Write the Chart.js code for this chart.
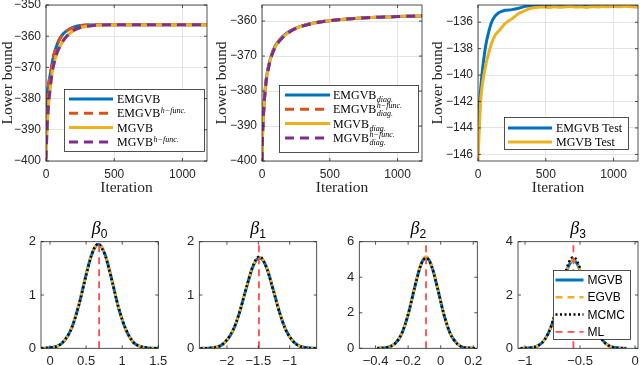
<!DOCTYPE html>
<html>
<head>
<meta charset="utf-8">
<script src="https://cdn.jsdelivr.net/npm/chart.js@4/dist/chart.umd.min.js"></script>
<style>
  body { margin: 0; background: #fff; }
  #wrap { position: relative; width: 640px; height: 365px; overflow: hidden; }
  #wrap canvas { position: absolute; left: 0; top: 0; }
</style>
</head>
<body>
<div id="wrap"></div>
<script>
"use strict";

// ---- top row: lower bound against iteration ----
const iterA = [0, 5, 10, 20, 30, 40, 50, 60, 80, 100, 125, 150, 175, 200, 250, 300, 400, 500, 600, 800, 1000, 1200];
const emgvb = [-385, -381.5, -378.5, -375, -372.5, -370, -367.5, -365.5, -362.8, -360.8, -359.3, -358.3, -357.6, -357.1, -356.6, -356.4, -356.3, -356.3, -356.3, -356.3, -356.3, -356.3];
const emgvbH = [-386, -382, -379, -375.3, -372.6, -370.2, -367.8, -365.7, -363, -361, -359.4, -358.4, -357.7, -357.2, -356.7, -356.4, -356.3, -356.3, -356.3, -356.3, -356.3, -356.3];
const mgvb = [-400, -393, -388, -381.5, -377, -373.3, -370.5, -368.6, -365.5, -363.5, -361.6, -360.2, -359.1, -358.3, -357.3, -356.8, -356.4, -356.3, -356.3, -356.3, -356.3, -356.3];
const mgvbH = [-399.5, -392.8, -387.8, -381.3, -376.9, -373.2, -370.4, -368.5, -365.4, -363.4, -361.5, -360.1, -359, -358.2, -357.2, -356.8, -356.4, -356.3, -356.3, -356.3, -356.3, -356.3];

const iterB = [0, 5, 10, 20, 30, 40, 60, 80, 100, 125, 150, 200, 250, 300, 400, 500, 600, 700, 800, 900, 1000, 1100, 1200];
const emgvbDiag = [-400, -391, -387, -381, -377, -374.5, -371, -368.6, -367, -365.6, -364.5, -363, -362, -361.3, -360.4, -359.9, -359.5, -359.2, -359, -358.8, -358.7, -358.6, -358.5];
const emgvbDiagH = [-400, -391.2, -387.1, -381.1, -377.1, -374.6, -371.1, -368.7, -367.1, -365.7, -364.6, -363.1, -362, -361.3, -360.4, -359.9, -359.5, -359.2, -359, -358.8, -358.7, -358.6, -358.5];
const mgvbDiag = [-400, -391.5, -387.4, -381.4, -377.4, -374.9, -371.3, -368.9, -367.3, -365.8, -364.7, -363.2, -362.1, -361.4, -360.5, -359.9, -359.5, -359.2, -359, -358.8, -358.7, -358.6, -358.5];
const mgvbDiagH = [-400, -391.6, -387.5, -381.5, -377.5, -375, -371.4, -369, -367.4, -365.9, -364.8, -363.2, -362.1, -361.4, -360.5, -359.9, -359.5, -359.2, -359, -358.8, -358.7, -358.6, -358.5];

const iterC = [0, 5, 10, 20, 30, 40, 60, 80, 100, 125, 150, 175, 200, 250, 300, 350, 400, 440, 480, 520, 560, 600, 640, 680, 720, 760, 800, 840, 880, 920, 960, 1000, 1040, 1080, 1120, 1160, 1200];
const emgvbTest = [-144.7, -143.4, -142.4, -141, -139.9, -139, -137.6, -136.7, -136, -135.55, -135.3, -135.18, -135.1, -135.05, -134.95, -134.8, -134.74, -134.71, -134.73, -134.69, -134.72, -134.75, -134.7, -134.68, -134.72, -134.74, -134.7, -134.71, -134.69, -134.73, -134.7, -134.67, -134.71, -134.74, -134.7, -134.72, -134.75];
const mgvbTest = [-146.5, -145.2, -144, -141.9, -140.9, -140.2, -139.1, -138.3, -137.6, -137, -136.7, -136.4, -136.1, -135.75, -135.35, -135.1, -134.93, -134.88, -134.86, -134.89, -134.84, -134.87, -134.85, -134.82, -134.86, -134.84, -134.88, -134.83, -134.85, -134.81, -134.84, -134.8, -134.83, -134.79, -134.82, -134.86, -134.88];

// ---- bottom row: marginal densities ----
const b0X = [-0.12, 0, 0.1, 0.2, 0.3, 0.4, 0.5, 0.57, 0.63, 0.67, 0.71, 0.77, 0.85, 0.95, 1.05, 1.15, 1.25, 1.35, 1.5];
const b0Mgvb = [0.001, 0.009, 0.04, 0.14, 0.38, 0.82, 1.38, 1.73, 1.91, 1.95, 1.91, 1.73, 1.32, 0.76, 0.35, 0.12, 0.035, 0.008, 0];
const b0Egvb = [0.001, 0.009, 0.04, 0.14, 0.39, 0.83, 1.39, 1.74, 1.92, 1.96, 1.92, 1.74, 1.33, 0.77, 0.35, 0.12, 0.035, 0.008, 0];
const b0Mcmc = [0.001, 0.01, 0.04, 0.15, 0.38, 0.81, 1.37, 1.73, 1.92, 1.96, 1.9, 1.72, 1.31, 0.76, 0.36, 0.12, 0.036, 0.008, 0];

const b1X = [-2.42, -2.25, -2.1, -2, -1.9, -1.8, -1.7, -1.6, -1.53, -1.48, -1.43, -1.36, -1.26, -1.16, -1.06, -0.96, -0.86, -0.72, -0.57];
const b1Mgvb = [0, 0.008, 0.05, 0.15, 0.34, 0.67, 1.09, 1.49, 1.66, 1.7, 1.66, 1.49, 1.09, 0.67, 0.34, 0.15, 0.05, 0.009, 0];
const b1Egvb = [0, 0.008, 0.05, 0.15, 0.35, 0.68, 1.1, 1.5, 1.67, 1.71, 1.67, 1.5, 1.1, 0.68, 0.34, 0.15, 0.05, 0.009, 0];
const b1Mcmc = [0, 0.009, 0.05, 0.16, 0.35, 0.67, 1.1, 1.5, 1.68, 1.72, 1.67, 1.48, 1.08, 0.66, 0.34, 0.15, 0.05, 0.009, 0];

const b2X = [-0.39, -0.33, -0.28, -0.24, -0.2, -0.16, -0.13, -0.11, -0.09, -0.07, -0.05, -0.02, 0.02, 0.06, 0.1, 0.14, 0.18, 0.21];
const b2Mgvb = [0.003, 0.05, 0.27, 0.81, 1.9, 3.42, 4.47, 4.94, 5.1, 4.94, 4.47, 3.42, 1.9, 0.81, 0.27, 0.05, 0.013, 0.003];
const b2Egvb = [0.003, 0.05, 0.28, 0.83, 1.93, 3.46, 4.52, 5, 5.17, 5, 4.52, 3.46, 1.93, 0.83, 0.28, 0.05, 0.013, 0.003];
const b2Mcmc = [0.003, 0.05, 0.27, 0.82, 1.91, 3.43, 4.46, 4.93, 5.08, 4.93, 4.46, 3.41, 1.9, 0.8, 0.27, 0.05, 0.013, 0.003];

const b3X = [-1.04, -0.95, -0.88, -0.82, -0.76, -0.7, -0.65, -0.6, -0.56, -0.52, -0.47, -0.42, -0.36, -0.3, -0.24, -0.17, -0.08];
const b3Mgvb = [0.001, 0.018, 0.1, 0.33, 0.84, 1.69, 2.5, 3.12, 3.3, 3.12, 2.5, 1.69, 0.84, 0.33, 0.1, 0.018, 0.001];
const b3Egvb = [0.001, 0.018, 0.1, 0.33, 0.85, 1.7, 2.52, 3.14, 3.32, 3.14, 2.52, 1.7, 0.85, 0.33, 0.1, 0.018, 0.001];
const b3Mcmc = [0.001, 0.019, 0.1, 0.34, 0.86, 1.73, 2.58, 3.24, 3.42, 3.22, 2.55, 1.7, 0.84, 0.33, 0.1, 0.018, 0.001];

const mlEstimates = [0.68, -1.49, -0.09, -0.56];

const C = {
  blue: "#0072BD", orange: "#D95319", yellow: "#EDB120", purple: "#7E2F8E",
  red: "#FF4D4D", axis: "#262626", grid: "#e4e4e4",
};

function pts(xs, ys) {
  return xs.map((x, i) => ({ x: x, y: ys[i] }));
}

function line(label, xs, ys, color, width, dash, order) {
  return {
    label: label, data: pts(xs, ys), borderColor: color, backgroundColor: color,
    borderWidth: width, borderDash: dash, order: order, fill: false, clip: 0,
  };
}

function mlLine(x, top) {
  return {
    label: "ML", data: pts([x, x], [0, top]), borderColor: C.red, borderWidth: 1.8,
    borderDash: [7, 5], order: 0, tension: 0, cubicInterpolationMode: "default", clip: 0,
  };
}

function drawLegend(chart, lg) {
  const ctx = chart.ctx;
  const ds = chart.data.datasets;
  ctx.fillStyle = "#fff";
  ctx.fillRect(lg.x, lg.y, lg.w, lg.h);
  ctx.strokeStyle = C.axis;
  ctx.lineWidth = 0.8;
  ctx.setLineDash([]);
  ctx.strokeRect(lg.x + 0.5, lg.y + 0.5, lg.w, lg.h);
  lg.items.forEach((it, i) => {
    const d = ds[it.ds];
    const y = lg.y + lg.first + i * lg.step;
    ctx.strokeStyle = d.borderColor;
    ctx.lineWidth = d.borderWidth;
    ctx.setLineDash(it.dash || d.borderDash || []);
    ctx.beginPath();
    ctx.moveTo(lg.x + lg.pad, y);
    ctx.lineTo(lg.x + lg.pad + lg.len, y);
    ctx.stroke();
    ctx.setLineDash([]);
    ctx.fillStyle = "#000";
    ctx.textBaseline = "alphabetic";
    ctx.font = lg.font;
    let tx = lg.x + lg.pad + lg.len + lg.gap;
    ctx.fillText(d.label, tx, y + 4);
    tx += ctx.measureText(d.label).width + 0.5;
    ctx.font = 'italic 8px "Liberation Serif"';
    if (it.sup) ctx.fillText(it.sup, tx, it.sub ? y - 1 : y);
    if (it.sub) ctx.fillText(it.sub, tx, y + 7);
  });
}

function drawTitle(ctx, a, sub) {
  ctx.fillStyle = "#000";
  ctx.textBaseline = "alphabetic";
  ctx.font = 'italic 18px "Liberation Serif"';
  const wb = ctx.measureText("\u03B2").width;
  ctx.font = '12px "Liberation Sans"';
  const ws = ctx.measureText(sub).width;
  const x0 = (a.left + a.right) / 2 - (wb + ws) / 2;
  ctx.font = 'italic 18px "Liberation Serif"';
  ctx.fillText("\u03B2", x0, 234);
  ctx.font = '12px "Liberation Sans"';
  ctx.fillText(sub, x0 + wb, 238);
}

// box, inward ticks on all four sides, legend and title, MATLAB style
function matlabAxes(s) {
  return {
    id: "matlabAxes",
    afterDraw(chart) {
      const ctx = chart.ctx, a = chart.chartArea;
      const sx = chart.scales.x, sy = chart.scales.y;
      ctx.save();
      ctx.strokeStyle = C.axis;
      ctx.lineWidth = 0.8;
      ctx.beginPath();
      sx.ticks.forEach((t) => {
        const p = sx.getPixelForValue(t.value);
        ctx.moveTo(p, a.bottom); ctx.lineTo(p, a.bottom - 3);
        ctx.moveTo(p, a.top); ctx.lineTo(p, a.top + 3);
      });
      sy.ticks.forEach((t) => {
        const p = sy.getPixelForValue(t.value);
        ctx.moveTo(a.left, p); ctx.lineTo(a.left + 3, p);
        ctx.moveTo(a.right, p); ctx.lineTo(a.right - 3, p);
      });
      ctx.stroke();
      ctx.strokeRect(a.left, a.top, a.right - a.left, a.bottom - a.top);
      if (s.legend) drawLegend(chart, s.legend);
      if (s.title) drawTitle(ctx, a, s.title);
      ctx.restore();
    },
  };
}

function makeChart(s) {
  const cv = document.createElement("canvas");
  cv.width = 640;
  cv.height = 365;
  document.getElementById("wrap").appendChild(cv);
  const a = s.area;
  const fmt = (v) => String(v).replace("-", "\u2212");
  const tickFont = { family: "Liberation Sans", size: s.tickSize };
  const titleFont = { family: "Liberation Serif", size: 15.5, lineHeight: 1 };
  const noPad = (sc) => { sc.paddingLeft = 0; sc.paddingRight = 0; sc.paddingTop = 0; sc.paddingBottom = 0; };
  return new Chart(cv, {
    type: "line",
    data: { datasets: s.datasets },
    options: {
      responsive: false,
      animation: false,
      devicePixelRatio: 1,
      events: [],
      layout: {
        autoPadding: false,
        padding: { left: a.l - s.yw, top: a.t, right: 640 - a.r, bottom: 365 - a.b - s.xh },
      },
      elements: { point: { radius: 0 }, line: { cubicInterpolationMode: "monotone", borderCapStyle: "butt" } },
      plugins: { legend: { display: false }, tooltip: { enabled: false } },
      scales: {
        x: {
          type: "linear", min: s.xMin, max: s.xMax,
          afterBuildTicks: (sc) => { sc.ticks = s.xTicks.map((v) => ({ value: v })); },
          afterFit: (sc) => { sc.height = s.xh; noPad(sc); },
          grid: { display: s.grid, color: C.grid, drawTicks: false },
          border: { display: false },
          ticks: { font: tickFont, color: C.axis, padding: s.xPad, maxRotation: 0, autoSkip: false, callback: fmt },
          title: { display: !!s.xTitle, text: s.xTitle, font: titleFont, color: C.axis, padding: 0 },
        },
        y: {
          type: "linear", min: s.yMin, max: s.yMax,
          afterBuildTicks: (sc) => { sc.ticks = s.yTicks.map((v) => ({ value: v })); },
          afterFit: (sc) => { sc.width = s.yw; noPad(sc); },
          grid: { display: s.grid, color: C.grid, drawTicks: false },
          border: { display: false },
          ticks: { font: tickFont, color: C.axis, padding: 5, autoSkip: false, callback: fmt },
          title: { display: !!s.yTitle, text: s.yTitle, font: titleFont, color: C.axis, padding: 0 },
        },
      },
    },
    plugins: [matlabAxes(s)],
  });
}

const topRow = { t: 5, b: 161 };
const topCommon = {
  xMin: 0, xMax: 1180, xTicks: [0, 500, 1000], grid: true, tickSize: 12, xPad: 6,
  xh: 34.75, xTitle: "Iteration", yTitle: "Lower bound",
};

makeChart(Object.assign({}, topCommon, {
  area: { l: 46, r: 207, t: topRow.t, b: topRow.b }, yw: 46,
  yMin: -400, yMax: -350, yTicks: [-400, -390, -380, -370, -360, -350],
  datasets: [
    line("EMGVB", iterA, emgvb, C.blue, 3, [], 3),
    line("EMGVB", iterA, emgvbH, C.orange, 3, [9, 6], 2),
    line("MGVB", iterA, mgvb, C.yellow, 3, [], 1),
    line("MGVB", iterA, mgvbH, C.purple, 3, [9, 6], 0),
  ],
  legend: {
    x: 64, y: 89, w: 140, h: 62, first: 10, step: 14.3, pad: 5, len: 44, gap: 4,
    font: '12px "Liberation Serif"',
    items: [{ ds: 0 }, { ds: 1, sup: "h\u2212func." }, { ds: 2 }, { ds: 3, sup: "h\u2212func." }],
  },
}));

makeChart(Object.assign({}, topCommon, {
  area: { l: 262, r: 422, t: topRow.t, b: topRow.b }, yw: 48,
  yMin: -400, yMax: -355.4, yTicks: [-400, -390, -380, -370, -360],
  datasets: [
    line("EMGVB", iterB, emgvbDiag, C.blue, 3, [], 3),
    line("EMGVB", iterB, emgvbDiagH, C.orange, 3, [9, 6], 2),
    line("MGVB", iterB, mgvbDiag, C.yellow, 3, [], 1),
    line("MGVB", iterB, mgvbDiagH, C.purple, 3, [9, 6], 0),
  ],
  legend: {
    x: 279, y: 85, w: 139, h: 67, first: 10, step: 14.3, pad: 6, len: 45, gap: 3,
    font: '12px "Liberation Serif"',
    items: [
      { ds: 0, sub: "diag." },
      { ds: 1, sup: "h\u2212func.", sub: "diag." },
      { ds: 2, sub: "diag." },
      { ds: 3, sup: "h\u2212func.", sub: "diag." },
    ],
  },
}));

makeChart(Object.assign({}, topCommon, {
  area: { l: 478, r: 638, t: topRow.t, b: topRow.b }, yw: 47.5,
  yMin: -146.5, yMax: -134.7, yTicks: [-146, -144, -142, -140, -138, -136],
  datasets: [
    line("EMGVB Test", iterC, emgvbTest, C.blue, 3, [], 1),
    line("MGVB Test", iterC, mgvbTest, C.yellow, 3, [], 0),
  ],
  legend: {
    x: 504, y: 117, w: 124, h: 32, first: 11, step: 14, pad: 4, len: 44, gap: 4,
    font: '12px "Liberation Serif"',
    items: [{ ds: 0 }, { ds: 1 }],
  },
}));

const botRow = { t: 241.7, b: 348.3 };
const botCommon = { grid: false, tickSize: 13, xPad: 5, xh: 365 - botRow.b, yw: 30, yMin: 0 };

function densitySets(xs, m, e, c, ml, top) {
  return [
    line("MGVB", xs, m, C.blue, 3, [], 3),
    line("EGVB", xs, e, C.yellow, 2.5, [7, 5], 2),
    line("MCMC", xs, c, "#000", 2.5, [2, 2.5], 1),
    mlLine(ml, top),
  ];
}

makeChart(Object.assign({}, botCommon, {
  area: { l: 41, r: 158.3, t: botRow.t, b: botRow.b },
  xMin: -0.125, xMax: 1.5, xTicks: [0, 0.5, 1, 1.5], yMax: 2, yTicks: [0, 1, 2],
  datasets: densitySets(b0X, b0Mgvb, b0Egvb, b0Mcmc, mlEstimates[0], 2),
  title: "0",
}));

makeChart(Object.assign({}, botCommon, {
  area: { l: 199.3, r: 316.7, t: botRow.t, b: botRow.b },
  xMin: -2.44, xMax: -0.57, xTicks: [-2, -1.5, -1], yMax: 2, yTicks: [0, 1, 2],
  datasets: densitySets(b1X, b1Mgvb, b1Egvb, b1Mcmc, mlEstimates[1], 2),
  title: "1",
}));

makeChart(Object.assign({}, botCommon, {
  area: { l: 359.3, r: 477.3, t: botRow.t, b: botRow.b },
  xMin: -0.5, xMax: 0.225, xTicks: [-0.4, -0.2, 0, 0.2], yMax: 6, yTicks: [0, 2, 4, 6],
  datasets: densitySets(b2X, b2Mgvb, b2Egvb, b2Mcmc, mlEstimates[2], 6),
  title: "2",
}));

makeChart(Object.assign({}, botCommon, {
  area: { l: 518, r: 638, t: botRow.t, b: botRow.b },
  xMin: -1.064, xMax: 0.027, xTicks: [-1, -0.5, 0], yMax: 4, yTicks: [0, 2, 4],
  datasets: densitySets(b3X, b3Mgvb, b3Egvb, b3Mcmc, mlEstimates[3], 4),
  title: "3",
  legend: {
    x: 553, y: 270, w: 77, h: 69, first: 10, step: 17.3, pad: 2.5, len: 28, gap: 4,
    font: '12px "Liberation Sans"',
    items: [{ ds: 0 }, { ds: 1 }, { ds: 2 }, { ds: 3 }],
  },
}));
</script>
</body>
</html>
